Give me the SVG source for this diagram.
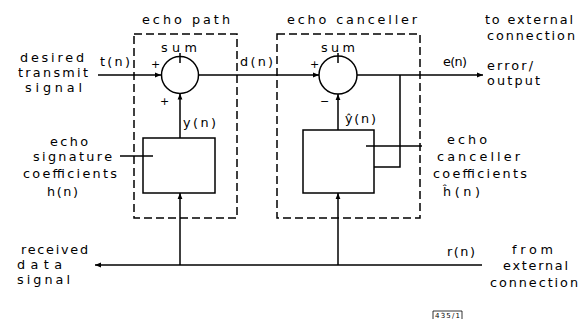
<svg xmlns="http://www.w3.org/2000/svg" width="582" height="320" viewBox="0 0 582 320">
<defs>
<style>
text{font-family:"DejaVu Sans","Liberation Sans",sans-serif;font-size:12.8px;fill:#000}
.s{font-size:11px}
.t{font-size:7px}
.ln{stroke:#000;stroke-width:1.5;fill:none}
.ds{stroke:#000;stroke-width:1.5;fill:none;stroke-dasharray:8 4}
</style>
<marker id="ah" viewBox="0 0 10 10" refX="10" refY="5" markerWidth="7" markerHeight="6" markerUnits="userSpaceOnUse" orient="auto">
<path d="M0,1 L10,5 L0,9 Z" fill="#000"/>
</marker>
</defs>
<rect width="582" height="320" fill="#fff"/>

<g id="echo-path-boundary">
<rect class="ds" x="134" y="34" width="103" height="184"/>
<text x="142" y="24" textLength="88" lengthAdjust="spacing">echo path</text>
</g>
<g id="echo-canceller-boundary">
<rect class="ds" x="277" y="34" width="143" height="184"/>
<text x="287" y="24" textLength="130" lengthAdjust="spacing">echo canceller</text>
</g>

<g id="connectors">
<line class="ln" x1="98" y1="75" x2="161" y2="75" marker-end="url(#ah)"/>
<line class="ln" x1="198.5" y1="75" x2="319" y2="75" marker-end="url(#ah)"/>
<line class="ln" x1="357" y1="75" x2="483" y2="75" marker-end="url(#ah)"/>
<line class="ln" x1="180" y1="138" x2="180" y2="93.5" marker-end="url(#ah)"/>
<line class="ln" x1="338" y1="130" x2="338" y2="94" marker-end="url(#ah)"/>
<line class="ln" x1="482" y1="265" x2="95" y2="265" marker-end="url(#ah)"/>
<line class="ln" x1="180" y1="265" x2="180" y2="193" marker-end="url(#ah)"/>
<line class="ln" x1="338" y1="265" x2="338" y2="193" marker-end="url(#ah)"/>
<polyline class="ln" points="400,75 400,167 374,167"/>
<line class="ln" x1="120" y1="156" x2="153" y2="156"/>
<line class="ln" x1="422" y1="146" x2="366" y2="146"/>
</g>

<g id="sum1">
<circle class="ln" cx="180" cy="75" r="18.5"/>
<line class="ln" x1="180" y1="53" x2="180" y2="63"/>
<text x="161" y="52" textLength="36" lengthAdjust="spacing">sum</text>
<text class="s" x="151" y="68">+</text>
<text class="s" x="160" y="105">+</text>
</g>
<g id="sum2">
<circle class="ln" cx="338" cy="75" r="19"/>
<line class="ln" x1="338" y1="53" x2="338" y2="63"/>
<text x="321" y="52" textLength="34" lengthAdjust="spacing">sum</text>
<text class="s" x="310" y="68">+</text>
<text class="s" x="320" y="105">−</text>
</g>

<g id="echo-signature">
<rect class="ln" x="143" y="138" width="72" height="55"/>
</g>
<g id="canceller-coefficients">
<rect class="ln" x="303" y="130" width="71" height="63"/>
</g>

<g id="labels">
<text x="20" y="62" textLength="64" lengthAdjust="spacing">desired</text>
<text x="18" y="77" textLength="70" lengthAdjust="spacing">transmit</text>
<text x="25" y="92" textLength="57" lengthAdjust="spacing">signal</text>
<text x="100" y="66" textLength="30" lengthAdjust="spacing">t(n)</text>
<text x="240" y="66" textLength="33" lengthAdjust="spacing">d(n)</text>
<text x="183" y="127" textLength="33" lengthAdjust="spacing">y(n)</text>
<text x="345" y="123" textLength="31" lengthAdjust="spacing">ŷ(n)</text>
<text x="443" y="66" textLength="24" lengthAdjust="spacing">e(n)</text>
<text x="485" y="24" textLength="88" lengthAdjust="spacing">to external</text>
<text x="487" y="40" textLength="88" lengthAdjust="spacing">connection</text>
<text x="487" y="70" textLength="46" lengthAdjust="spacing">error/</text>
<text x="487" y="85" textLength="53" lengthAdjust="spacing">output</text>
<text x="50" y="146" textLength="38" lengthAdjust="spacing">echo</text>
<text x="33" y="161" textLength="79" lengthAdjust="spacing">signature</text>
<text x="23" y="178" textLength="94" lengthAdjust="spacing">coefficients</text>
<text x="47" y="196" textLength="31" lengthAdjust="spacing">h(n)</text>
<text x="447" y="144" textLength="40" lengthAdjust="spacing">echo</text>
<text x="437" y="161" textLength="83" lengthAdjust="spacing">canceller</text>
<text x="433" y="178" textLength="94" lengthAdjust="spacing">coefficients</text>
<text x="443" y="196" textLength="37" lengthAdjust="spacing">ĥ(n)</text>
<text x="21" y="254" textLength="67" lengthAdjust="spacing">received</text>
<text x="17" y="269" textLength="45" lengthAdjust="spacing">data</text>
<text x="17" y="284" textLength="53" lengthAdjust="spacing">signal</text>
<text x="447" y="256" textLength="28" lengthAdjust="spacing">r(n)</text>
<text x="512" y="254" textLength="41" lengthAdjust="spacing">from</text>
<text x="503" y="270" textLength="65" lengthAdjust="spacing">external</text>
<text x="490" y="287" textLength="88" lengthAdjust="spacing">connection</text>
</g>

<g id="figure-tag">
<polyline stroke="#000" stroke-width="0.8" fill="none" points="433,319 433,311 462,311 462,319"/>
<text class="t" x="435" y="318" textLength="25" lengthAdjust="spacing">435/1</text>
</g>
</svg>
